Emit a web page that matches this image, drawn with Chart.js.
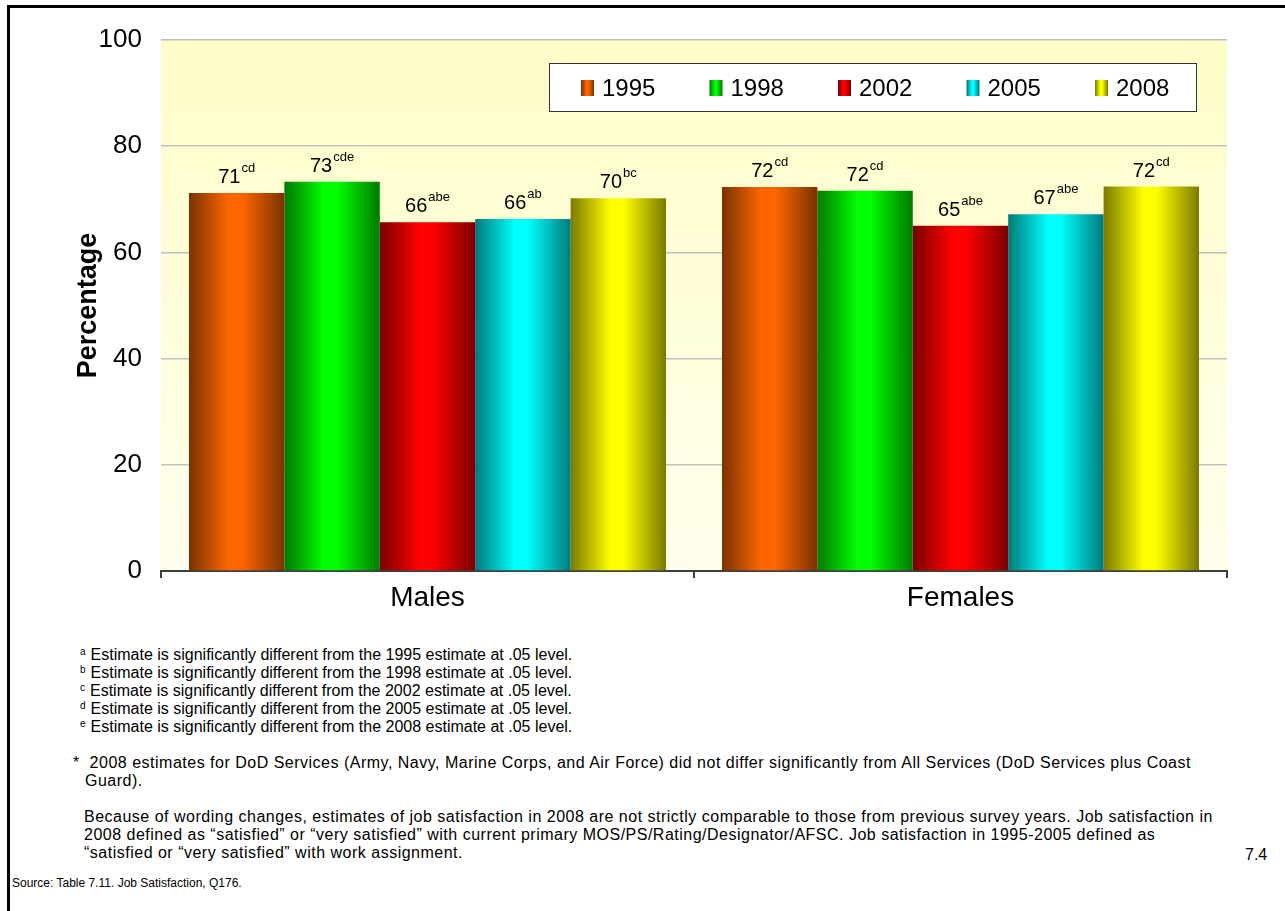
<!DOCTYPE html>
<html>
<head>
<meta charset="utf-8">
<script src="https://cdn.jsdelivr.net/npm/chart.js@4.4.0/dist/chart.umd.min.js"></script>
<style>
  body { margin: 0; background: #fff; font-family: "Liberation Sans", Arial, sans-serif; color: #000; }
  #frame { position: absolute; left: 7px; top: 5px; width: 1300px; height: 940px; border-left: 3px solid #000; border-top: 3px solid #000; }
  #chart { position: absolute; left: 0; top: 0; }
  .notes { position: absolute; font-size: 16px; line-height: 18px; white-space: nowrap; }
  .notes div { height: 18px; }
  .notes sup { font-size: 10px; line-height: 0; vertical-align: 5px; margin-right: 5px; }
  .wide { letter-spacing: 0.5px; }
</style>
</head>
<body>
<div id="frame"></div>
<canvas id="chart" width="1285" height="625"></canvas>

<div class="notes" style="left:80px; top:646px;">
  <div><sup>a</sup>Estimate is significantly different from the 1995 estimate at .05 level.</div>
  <div><sup>b</sup>Estimate is significantly different from the 1998 estimate at .05 level.</div>
  <div><sup>c</sup>Estimate is significantly different from the 2002 estimate at .05 level.</div>
  <div><sup>d</sup>Estimate is significantly different from the 2005 estimate at .05 level.</div>
  <div><sup>e</sup>Estimate is significantly different from the 2008 estimate at .05 level.</div>
</div>
<div class="notes wide" style="left:73px; top:754px;">
  <div>*&nbsp; 2008 estimates for DoD Services (Army, Navy, Marine Corps, and Air Force) did not differ significantly from All Services (DoD Services plus Coast</div>
  <div style="padding-left:12px;">Guard).</div>
</div>
<div class="notes wide" style="left:84px; top:808px;">
  <div>Because of wording changes, estimates of job satisfaction in 2008 are not strictly comparable to those from previous survey years. Job satisfaction in</div>
  <div>2008 defined as “satisfied” or “very satisfied” with current primary MOS/PS/Rating/Designator/AFSC. Job satisfaction in 1995-2005 defined as</div>
  <div>“satisfied or “very satisfied” with work assignment.</div>
</div>
<div class="notes" style="left:12px; top:874px; font-size:12px;">Source: Table 7.11. Job Satisfaction, Q176.</div>
<div class="notes" style="left:1245px; top:846px; font-size:16px;">7.4</div>

<script>
const groups = ['Males', 'Females'];
const years = ['1995', '1998', '2002', '2005', '2008'];
const males = [71.2, 73.3, 65.7, 66.3, 70.2];
const females = [72.3, 71.6, 65.0, 67.2, 72.4];
const malesSup = ['cd', 'cde', 'abe', 'ab', 'bc'];
const femalesSup = ['cd', 'cd', 'abe', 'abe', 'cd'];
const yTicks = [0, 20, 40, 60, 80, 100];

// bright middle colour and dark edge colour for each year
const brightColors = ['#ff6600', '#00ff00', '#ff0000', '#00ffff', '#ffff00'];
const darkColors = ['#7a3300', '#007a00', '#7a0000', '#007a7a', '#7a7a00'];

const FONT = '"Liberation Sans", Arial, sans-serif';
const CAT_PCT = 0.895;

function barGradient(ctx, left, width, i) {
  const g = ctx.createLinearGradient(left, 0, left + width, 0);
  g.addColorStop(0, darkColors[i]);
  g.addColorStop(0.42, brightColors[i]);
  g.addColorStop(0.55, brightColors[i]);
  g.addColorStop(1, darkColors[i]);
  return g;
}

function scriptedFill(c) {
  const chart = c.chart;
  const xs = chart.scales.x;
  if (c.dataIndex === undefined || !xs || !xs.width) return brightColors[c.datasetIndex];
  const catW = xs.width / groups.length;
  const groupW = catW * CAT_PCT;
  const barW = groupW / years.length;
  const left = xs.getPixelForValue(c.dataIndex) - groupW / 2 + c.datasetIndex * barW;
  return barGradient(chart.ctx, left, barW, c.datasetIndex);
}

const plotBackground = {
  id: 'plotBackground',
  beforeDraw(chart) {
    const { ctx, chartArea: a } = chart;
    const g = ctx.createLinearGradient(0, a.top, 0, a.bottom);
    g.addColorStop(0, '#fffdc8');
    g.addColorStop(1, '#fffeec');
    ctx.save();
    ctx.fillStyle = g;
    ctx.fillRect(a.left, a.top, a.right - a.left, a.bottom - a.top);
    ctx.restore();
  }
};

const valueLabels = {
  id: 'valueLabels',
  afterDatasetsDraw(chart) {
    const ctx = chart.ctx;
    const sups = [malesSup, femalesSup];
    ctx.save();
    ctx.fillStyle = '#000';
    ctx.textBaseline = 'alphabetic';
    ctx.textAlign = 'left';
    chart.data.datasets.forEach((ds, di) => {
      chart.getDatasetMeta(di).data.forEach((el, i) => {
        const num = String(Math.round(ds.data[i]));
        const sup = sups[i][di];
        ctx.font = '20px ' + FONT;
        const wn = ctx.measureText(num).width;
        ctx.font = '13px ' + FONT;
        const ws = ctx.measureText(sup).width;
        const x0 = el.x - (wn + ws + 1) / 2;
        const base = el.y - 10;
        ctx.font = '20px ' + FONT;
        ctx.fillText(num, x0, base);
        ctx.font = '13px ' + FONT;
        ctx.fillText(sup, x0 + wn + 1, base - 11);
      });
    });
    ctx.restore();
  }
};

const boxLegend = {
  id: 'boxLegend',
  afterDraw(chart) {
    const { ctx, chartArea: a } = chart;
    const right = a.right - 31, top = a.top + 23, w = 647, h = 48;
    const left = right - w;
    ctx.save();
    ctx.fillStyle = '#fff';
    ctx.fillRect(left, top, w, h);
    ctx.strokeStyle = '#333';
    ctx.lineWidth = 1;
    ctx.strokeRect(left + 0.5, top + 0.5, w, h);
    ctx.font = '24px ' + FONT;
    ctx.textBaseline = 'middle';
    chart.data.datasets.forEach((ds, i) => {
      const bx = left + 32 + i * 128.5;
      const cy = top + h / 2 + 1;
      ctx.fillStyle = barGradient(ctx, bx, 13, i);
      ctx.fillRect(bx, cy - 8, 13, 16);
      ctx.fillStyle = '#000';
      ctx.fillText(ds.label, bx + 21, cy + 1);
    });
    ctx.restore();
  }
};

const datasets = years.map((y, i) => ({
  label: y,
  data: [males[i], females[i]],
  backgroundColor: scriptedFill,
  borderWidth: 0,
  categoryPercentage: CAT_PCT,
  barPercentage: 1.0
}));

new Chart(document.getElementById('chart'), {
  type: 'bar',
  data: { labels: groups, datasets },
  options: {
    responsive: false,
    animation: false,
    devicePixelRatio: 1,
    layout: { padding: { top: 40, right: 58, left: 0, bottom: 0 } },
    plugins: { legend: { display: false }, tooltip: { enabled: false } },
    scales: {
      x: {
        afterFit: (s) => { s.height = 54; },
        grid: { offset: true, drawOnChartArea: false, color: '#404040', lineWidth: 2, tickLength: 7 },
        border: { display: true, color: '#404040', width: 2 },
        ticks: { color: '#000', font: { family: FONT, size: 28 }, padding: 3 }
      },
      y: {
        min: 0,
        max: 100,
        afterFit: (s) => { s.width = 161; },
        afterBuildTicks: (s) => { s.ticks = yTicks.map(v => ({ value: v })); },
        grid: { color: '#c0c0c0', lineWidth: 1.5, drawTicks: false },
        border: { display: false },
        ticks: { color: '#000', font: { family: FONT, size: 26 }, padding: 19 },
        title: {
          display: true,
          text: 'Percentage',
          color: '#000',
          font: { family: FONT, size: 27, weight: 'bold' },
          padding: { top: 72, bottom: 0 }
        }
      }
    }
  },
  plugins: [plotBackground, valueLabels, boxLegend]
});
</script>
</body>
</html>
